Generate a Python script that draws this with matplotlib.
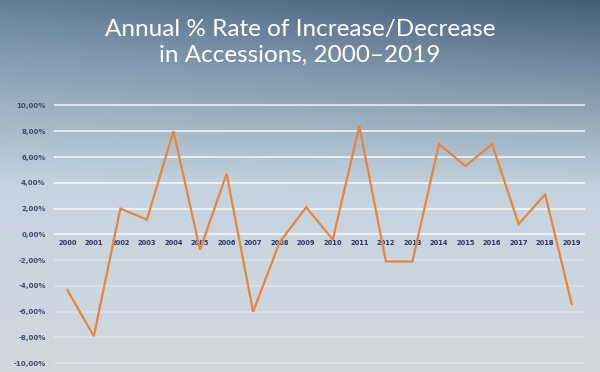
import numpy as np
import matplotlib
matplotlib.use('Agg')
import matplotlib.pyplot as plt

# ---- data ----
years = [str(y) for y in range(2000, 2020)]
rates = [-4.3, -7.9, 2.0, 1.15, 8.0, -1.2, 4.7, -6.0, -0.6, 2.1,
         -0.4, 8.4, -2.1, -2.1, 7.0, 5.3, 7.0, 0.8, 3.1, -5.4]
yticks = [10, 8, 6, 4, 2, 0, -2, -4, -6, -8, -10]
ytick_labels = ['10,00%', '8,00%', '6,00%', '4,00%', '2,00%', '0,00%',
                '-2,00%', '-4,00%', '-6,00%', '-8,00%', '-10,00%']
title = 'Annual % Rate of Increase/Decrease\nin Accessions, 2000\u20132019'

fig = plt.figure(figsize=(6, 3.72), dpi=100)

# sky-like gradient background
bg = fig.add_axes([0, 0, 1, 1])
h, w = 186, 300
t = np.linspace(0, 1, h)[:, None]
s = np.linspace(0, 1, w)[None, :]
top = np.array([100, 126, 152]) / 255
mid = np.array([196, 212, 224]) / 255
bot = np.array([210, 216, 222]) / 255
img = np.zeros((h, w, 3))
for c in range(3):
    up = top[c] + (mid[c] - top[c]) * (t / 0.5) ** 0.9
    low = mid[c] + (bot[c] - mid[c]) * ((t - 0.5) / 0.5)
    col = np.where(t < 0.5, up, low)
    # darker towards the top-right
    col = col - 0.13 * s * np.clip(1 - t / 0.55, 0, 1)
    img[:, :, c] = col
bg.imshow(np.clip(img, 0, 1), aspect='auto', extent=[0, 1, 0, 1])
bg.axis('off')

ax = fig.add_axes([0.09, 0.02, 0.885, 0.70])
ax.patch.set_alpha(0)
x = np.arange(len(years))
ax.set_xlim(-0.5, len(years) - 0.5)
ax.set_ylim(-10.1, 10.1)

for v in yticks:
    alpha = 0.75 if v >= 0 else 0.3
    ax.axhline(v, color='white', lw=1.3, alpha=alpha, zorder=1)

ax.plot(x, rates, color='#e8843c', lw=1.6, zorder=3, solid_joinstyle='miter')

for xi, yr in zip(x, years):
    ax.text(xi, -0.65, yr, ha='center', va='center', fontsize=4.8,
            fontweight='bold', color='#2b3560', zorder=2)

ax.set_yticks(yticks)
ax.set_yticklabels(ytick_labels, fontsize=5, fontweight='bold', color='#3e4a6a')
ax.tick_params(axis='y', length=0, pad=6)
ax.set_xticks([])
for sp in ax.spines.values():
    sp.set_visible(False)

fig.text(0.5, 0.885, title, ha='center', va='center', color='white',
         fontsize=17.5, family='Lato', linespacing=1.3)

fig.savefig('out.png', dpi=100)
